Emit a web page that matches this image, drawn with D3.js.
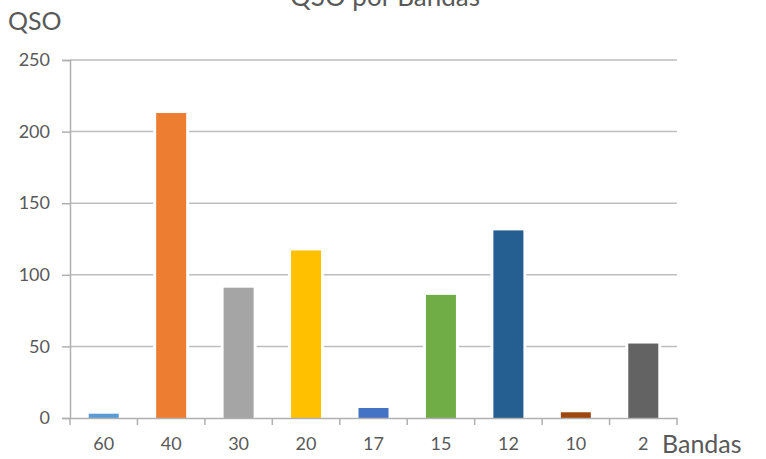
<!DOCTYPE html>
<html>
<head>
<meta charset="utf-8">
<script src="https://cdn.jsdelivr.net/npm/d3@7"></script>
<style>
  body { margin: 0; background: #fff; }
  text { font-family: Lato, "Open Sans", sans-serif; fill: #595959; }
</style>
</head>
<body>
<svg id="chart"></svg>
<script>
let bands = ["60", "40", "30", "20", "17", "15", "12", "10", "2"];
let qso = [3, 213, 91, 117, 7, 86, 131, 4, 52];
let barColors = ["#5b9bd5", "#ed7d31", "#a5a5a5", "#ffc000", "#4472c4",
                 "#70ad47", "#255e91", "#9e480e", "#636363"];
let yTicks = [0, 50, 100, 150, 200, 250];

let width = 766, height = 459;
let plotLeft = 70, plotRight = 677, plotTop = 60, plotBottom = 418;

let svg = d3.select("#chart")
    .attr("width", width)
    .attr("height", height);

let x = d3.scaleBand()
    .domain(bands)
    .range([plotLeft, plotRight])
    .paddingInner(0.555)
    .paddingOuter(0.2775);

let y = d3.scaleLinear()
    .domain([0, 250])
    .range([plotBottom, plotTop]);

// gridlines
svg.append("g")
    .selectAll("line")
    .data(yTicks.slice(1))
    .enter()
    .append("line")
    .attr("x1", plotLeft)
    .attr("x2", plotRight)
    .attr("y1", d => y(d))
    .attr("y2", d => y(d))
    .attr("stroke", "#bdbdbd")
    .attr("stroke-width", 1.5);

// bars
svg.append("g")
    .selectAll("rect")
    .data(qso)
    .enter()
    .append("rect")
    .attr("x", (d, i) => x(bands[i]))
    .attr("y", d => y(d))
    .attr("width", x.bandwidth())
    .attr("height", d => plotBottom - y(d))
    .attr("fill", (d, i) => barColors[i])
    .attr("stroke", "#fff")
    .attr("stroke-width", 6)
    .style("paint-order", "stroke");

// y axis
let yAxis = svg.append("g")
    .attr("transform", "translate(" + plotLeft + ",0)")
    .call(d3.axisLeft(y).tickValues(yTicks).tickSize(8).tickPadding(12));
yAxis.select(".domain").attr("stroke", "#b0b0b0").attr("stroke-width", 1.5);
yAxis.selectAll(".tick line").attr("stroke", "#b0b0b0").attr("stroke-width", 1.5);
yAxis.selectAll(".tick text")
    .style("font-size", "18px")
    .attr("fill", "#595959");

// x axis
let xAxis = svg.append("g")
    .attr("transform", "translate(0," + plotBottom + ")")
    .call(d3.axisBottom(x).tickSize(0).tickPadding(19));
xAxis.select(".domain").attr("stroke", "#b0b0b0").attr("stroke-width", 1.5);
xAxis.selectAll(".tick text")
    .style("font-size", "18px")
    .attr("fill", "#595959");

// boundary ticks between bands
xAxis.selectAll(".sep")
    .data(d3.range(bands.length + 1))
    .enter()
    .append("line")
    .attr("class", "sep")
    .attr("x1", i => plotLeft + i * x.step())
    .attr("x2", i => plotLeft + i * x.step())
    .attr("y1", 0)
    .attr("y2", 7)
    .attr("stroke", "#b0b0b0")
    .attr("stroke-width", 1.5);

// titles
svg.append("text")
    .attr("x", 385)
    .attr("y", 6)
    .attr("text-anchor", "middle")
    .style("font-size", "26px")
    .text("QSO por Bandas");

svg.append("text")
    .attr("x", 8)
    .attr("y", 30)
    .style("font-size", "25px")
    .text("QSO");

svg.append("text")
    .attr("x", 662)
    .attr("y", 453)
    .style("font-size", "25px")
    .text("Bandas");
</script>
</body>
</html>
